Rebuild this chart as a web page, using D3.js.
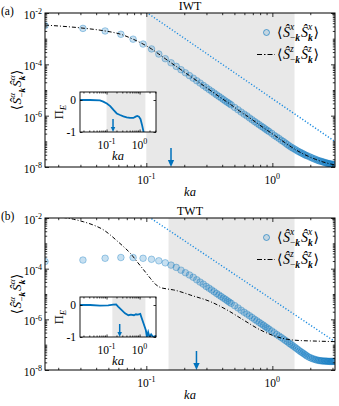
<!DOCTYPE html>
<html>
<head>
<meta charset="utf-8">
<script src="https://cdn.jsdelivr.net/npm/d3@7"></script>
<style>
body { margin: 0; background: #fff; }
svg { display: block; font-family: "Liberation Serif", "DejaVu Serif", serif; }
</style>
</head>
<body>
<svg id="chart" width="339" height="406"></svg>
<script>
// ka = n * dka  (n = mode index)
var dka = Math.PI / 200;

var nCircles = [1,2,3,4,5,6,7,8,9,10,11,12,13,14,15,16,17,18,19,20,21,22,23,24,25,26,27,28,29,30,
	32,34,36,38,40,42,44,46,48,50,52,54,56,58,60,
	63,66,69,72,75,78,81,84,87,90,93,96,99,102,105,108,111,114,117,120,
	124,128,132,136,140,144,148,152,156,160,164,168,172,176,180,184,188,192,196,200];

// log10 <S^x_-k S^x_k>
var sxIWT = [-2.49,-2.60,-2.70,-2.83,-3.02,-3.21,-3.40,-3.60,-3.78,-3.94,
	-4.08,-4.21,-4.33,-4.44,-4.54,-4.64,-4.73,-4.82,-4.90,-4.98,
	-5.05,-5.12,-5.19,-5.25,-5.31,-5.37,-5.43,-5.48,-5.53,-5.58,
	-5.68,-5.77,-5.86,-5.94,-6.01,-6.09,-6.16,-6.23,-6.29,-6.35,-6.41,-6.46,-6.52,-6.57,-6.62,
	-6.69,-6.77,-6.83,-6.89,-6.96,-7.01,-7.07,-7.13,-7.18,-7.23,-7.27,-7.31,-7.35,-7.39,-7.42,-7.45,-7.48,-7.51,-7.54,-7.56,
	-7.59,-7.62,-7.65,-7.68,-7.70,-7.73,-7.75,-7.77,-7.78,-7.80,-7.82,-7.83,-7.85,-7.86,-7.87,-7.88,-7.89,-7.90,-7.91,-7.92];

var sxTWT = [-3.72,-3.66,-3.59,-3.56,-3.56,-3.59,-3.63,-3.69,-3.77,-3.86,
	-3.95,-4.06,-4.16,-4.25,-4.34,-4.44,-4.53,-4.61,-4.70,-4.77,
	-4.84,-4.91,-4.98,-5.04,-5.10,-5.16,-5.21,-5.27,-5.32,-5.37,
	-5.46,-5.55,-5.64,-5.72,-5.79,-5.86,-5.93,-6.00,-6.06,-6.12,-6.18,-6.23,-6.29,-6.34,-6.39,
	-6.46,-6.53,-6.60,-6.66,-6.72,-6.78,-6.84,-6.89,-6.95,-7.00,-7.05,-7.10,-7.15,-7.20,-7.25,-7.29,-7.33,-7.37,-7.41,-7.45,
	-7.49,-7.52,-7.55,-7.57,-7.59,-7.61,-7.62,-7.63,-7.64,-7.64,-7.65,-7.65,-7.65,-7.66,-7.66,-7.66,-7.66,-7.66,-7.66,-7.66];

// log10 <S^z_-k S^z_k>
var nLineIWT = [1,2,3,4,5,6,7,8,9,10,12,14,16,18,20,25,30,35,40,50,60,70,80,90,100,120,140,160,180,200];
var szIWT = [-2.47,-2.59,-2.70,-2.83,-3.02,-3.21,-3.40,-3.60,-3.78,-3.94,-4.21,-4.44,-4.64,-4.82,-4.98,
	-5.31,-5.58,-5.82,-6.01,-6.35,-6.62,-6.85,-7.05,-7.22,-7.36,-7.56,-7.70,-7.80,-7.87,-7.92];

var kaLineTWT = [0.0157,0.0201,0.0265,0.0318,0.0381,0.0458,0.0518,0.0585,0.0659,0.0746,0.0843,0.0953,0.1076,
	0.1178,0.1291,0.1459,0.1648,0.1977,0.2234,0.322,0.437,0.592,0.804,1.089,1.476,2.265,3.1416];
var szTWT = [-1.88,-1.95,-2.05,-2.15,-2.28,-2.47,-2.67,-2.90,-3.13,-3.39,-3.72,-4.05,-4.38,
	-4.61,-4.74,-4.80,-4.84,-4.95,-5.04,-5.30,-5.63,-6.03,-6.42,-6.69,-6.82,-6.86,-6.88];

// dotted power-law guide
var refKa = [0.1, Math.PI];
var refIWT = [-1.97, -7.01];
var refTWT = [-1.89, -6.88];

var shadeIWT = [0.1, 1.5];
var shadeTWT = [0.15, 1.5];
var arrowIWT = 0.157;
var arrowTWT = 0.25;

// inset: Pi_E
var piKaIWT = [0.0158,0.0316,0.0631,0.0794,0.102,0.129,0.162,0.204,0.257,0.324,0.407,0.513,0.646,0.759,0.851,0.955,1.07,1.20,1.32,1.41];
var piIWT = [0,0,-0.01,-0.05,-0.11,-0.19,-0.31,-0.42,-0.47,-0.51,-0.54,-0.56,-0.56,-0.52,-0.50,-0.52,-0.60,-0.80,-1.0,-1.15];
var piKaTWT = [0.0158,0.0316,0.0631,0.112,0.158,0.195,0.224,0.288,0.363,0.457,0.550,0.676,0.776,0.891,1.05,1.15,1.32,1.55,1.66,1.82,2.00,2.24,2.57,2.95,3.14];
var piTWT = [0,0,-0.02,-0.01,0.01,0.02,-0.05,-0.16,-0.26,-0.32,-0.30,-0.32,-0.29,-0.30,-0.28,-0.40,-0.58,-0.79,-1.0,-0.85,-1.0,-0.92,-1.0,-0.97,-1.0];

var xMajor = [0.1, 1];
var yMajor = [1e-8, 1e-6, 1e-4, 1e-2];
var piMajor = [-1, 0];

var blue = "#0072BD";
var svg = d3.select("#chart");

function decadeTicks(lo, hi){
	var out = [];
	for (var d = Math.floor(Math.log10(lo)); d <= Math.ceil(Math.log10(hi)); ++d){
		for (var m = 1; m < 10; ++m){
			var v = m * Math.pow(10, d);
			if (v >= lo*0.999 && v <= hi*1.001){
				out.push(v);
			}
		}
	}
	return out;
}
function notIn(list, major){
	return list.filter(v => !major.some(m => Math.abs(v/m - 1) < 1e-6));
}

function frameTicks(g, x, y, xt, yt, len){
	var r = x.range(), t = y.range();
	g.append("g").attr("transform","translate(0,"+t[0]+")")
		.call(d3.axisBottom(x).tickValues(xt).tickSize(-len).tickFormat(""));
	g.append("g").attr("transform","translate(0,"+t[1]+")")
		.call(d3.axisTop(x).tickValues(xt).tickSize(-len).tickFormat(""));
	g.append("g").attr("transform","translate("+r[0]+",0)")
		.call(d3.axisLeft(y).tickValues(yt).tickSize(-len).tickFormat(""));
	g.append("g").attr("transform","translate("+r[1]+",0)")
		.call(d3.axisRight(y).tickValues(yt).tickSize(-len).tickFormat(""));
	g.selectAll(".domain").remove();
	g.selectAll(".tick line").attr("stroke-width", 0.8);
}

function powLabel(g, x, y, exp, anchor){
	var t = g.append("text").attr("x", x).attr("y", y)
		.attr("text-anchor", anchor).attr("font-size", 11.5);
	t.append("tspan").text("10");
	t.append("tspan").attr("font-size", 8).attr("dy", -4.8).text(exp);
}

// <S^a_-k S^a_k>, super- and subscript stacked
function corrText(t, sup, fs){
	var ss = fs * 0.68, up = fs * 0.45, down = fs * 0.32;
	t.attr("font-size", fs);
	t.append("tspan").text("\u27E8");
	for (var i = 0; i < 2; ++i){
		t.append("tspan").attr("font-style","italic").attr("dx", i == 0 ? 0.5 : 1)
			.attr("dy", i == 0 ? 0 : -down).text("\u015C");
		var sp = t.append("tspan").attr("font-size", ss).attr("font-style","italic").attr("dy", -up).text(sup);
		var w = sp.node().getComputedTextLength();
		if (i == 0){
			t.append("tspan").attr("font-size", ss).attr("dx", -w).attr("dy", up + down).text("\u2212");
		}
		t.append("tspan").attr("font-size", ss).attr("font-weight","bold").attr("font-style","italic")
			.attr("dx", i == 0 ? 0 : -w).attr("dy", i == 0 ? 0 : up + down).text("k");
	}
	t.append("tspan").attr("dx", 0.5).attr("dy", -down).text("\u27E9");
}

function arrowDown(g, x, y0, y1, head){
	g.append("line").attr("x1", x).attr("x2", x).attr("y1", y0).attr("y2", y1 - head)
		.attr("stroke", blue).attr("stroke-width", 1.5);
	g.append("path")
		.attr("d", "M"+(x-head*0.45)+","+(y1-head)+"L"+(x+head*0.45)+","+(y1-head)+"L"+x+","+y1+"Z")
		.attr("fill", blue);
}

function drawPanel(top, bottom, tag, title, sx, lineKa, lineS, ref, shade, arrowKa, piKa, piV, id){
	var left = 45, right = 335;
	var x = d3.scaleLog().domain([dka, Math.PI]).range([left, right]);
	var y = d3.scaleLog().domain([1e-8, 1e-2]).range([bottom, top]);
	var g = svg.append("g");

	g.append("clipPath").attr("id", "clip"+id).append("rect")
		.attr("x", left).attr("y", top).attr("width", right-left).attr("height", bottom-top);

	g.append("rect").attr("x", x(shade[0])).attr("y", top)
		.attr("width", x(shade[1]) - x(shade[0])).attr("height", bottom-top).attr("fill", "#e8e8e8");

	var plot = g.append("g").attr("clip-path", "url(#clip"+id+")");

	var refPts = refKa.map((k, i) => [k, Math.pow(10, ref[i])]);
	plot.append("path").attr("d", d3.line().x(d => x(d[0])).y(d => y(d[1]))(refPts))
		.attr("fill", "none").attr("stroke", "#1c8ce0").attr("stroke-width", 1.4)
		.attr("stroke-dasharray", "1.2,1.9");

	plot.selectAll("circle")
		.data(nCircles.map((n, i) => [n*dka, Math.pow(10, sx[i])]))
		.enter()
		.append("circle")
			.attr("cx", d => x(d[0]))
			.attr("cy", d => y(d[1]))
			.attr("r", 3.3)
			.attr("fill", blue).attr("fill-opacity", 0.22)
			.attr("stroke", blue).attr("stroke-opacity", 0.42).attr("stroke-width", 0.8);

	var linePts = lineKa.map((k, i) => [k, Math.pow(10, lineS[i])]);
	plot.append("path").attr("d", d3.line().curve(d3.curveMonotoneX).x(d => x(d[0])).y(d => y(d[1]))(linePts))
		.attr("fill", "none").attr("stroke", "black").attr("stroke-width", 1)
		.attr("stroke-dasharray", "4,2,1,2");

	arrowDown(g, x(arrowKa), bottom - 19, bottom, 7);

	frameTicks(g, x, y, notIn(decadeTicks(dka, Math.PI), xMajor), notIn(decadeTicks(1e-8, 1e-2), yMajor), 2.2);
	frameTicks(g, x, y, xMajor, yMajor, 4);
	g.append("rect").attr("x", left).attr("y", top).attr("width", right-left).attr("height", bottom-top)
		.attr("fill", "none").attr("stroke", "black").attr("stroke-width", 1);

	xMajor.forEach(v => powLabel(g, x(v), bottom + 16.5, String(Math.round(Math.log10(v))), "middle"));
	yMajor.forEach(v => powLabel(g, left - 3, y(v) + 6, String(Math.round(Math.log10(v))), "end"));

	g.append("text").attr("x", 190).attr("y", bottom + 29).attr("text-anchor", "middle")
		.attr("font-size", 12.5).attr("font-style", "italic").text("ka");
	g.append("text").attr("x", 190).attr("y", top - 3).attr("text-anchor", "middle")
		.attr("font-size", 12).text(title);
	g.append("text").attr("x", 1).attr("y", top + 1.5).attr("font-size", 11.5).text(tag);

	var yl = g.append("text").attr("transform", "translate(21,"+((top+bottom)/2)+") rotate(-90)")
		.attr("text-anchor", "middle");
	corrText(yl, "\u03B1", 13.5);

	// legend
	var lg = g.append("g");
	lg.append("circle").attr("cx", 266.5).attr("cy", top + 19.5).attr("r", 3)
		.attr("fill", blue).attr("fill-opacity", 0.15)
		.attr("stroke", blue).attr("stroke-opacity", 0.75).attr("stroke-width", 0.8);
	corrText(lg.append("text").attr("x", 277).attr("y", top + 23.5), "x", 14);
	lg.append("line").attr("x1", 257).attr("x2", 275).attr("y1", top + 41.5).attr("y2", top + 41.5)
		.attr("stroke", "black").attr("stroke-width", 1).attr("stroke-dasharray", "5,2,1.5,2");
	corrText(lg.append("text").attr("x", 277).attr("y", top + 45.5), "z", 14);

	// inset
	var iTop = top + 79, iBot = top + 119, iL = 80, iR = 156;
	var xi = d3.scaleLog().domain([dka, Math.PI]).range([iL, iR]);
	var yi = d3.scaleLinear().domain([-1, 0.25]).range([iBot, iTop]);
	var ig = g.append("g");
	ig.append("rect").attr("x", iL).attr("y", iTop).attr("width", iR-iL).attr("height", iBot-iTop).attr("fill", "white");
	ig.append("rect").attr("x", xi(shade[0])).attr("y", iTop)
		.attr("width", xi(shade[1]) - xi(shade[0])).attr("height", iBot-iTop).attr("fill", "#e8e8e8");
	ig.append("clipPath").attr("id", "iclip"+id).append("rect")
		.attr("x", iL).attr("y", iTop).attr("width", iR-iL).attr("height", iBot-iTop);
	ig.append("path").attr("clip-path", "url(#iclip"+id+")")
		.attr("d", d3.line().x((d, i) => xi(d)).y((d, i) => yi(piV[i]))(piKa))
		.attr("fill", "none").attr("stroke", blue).attr("stroke-width", 1.8);
	arrowDown(ig, xi(arrowKa), iBot - 13, iBot, 5);
	frameTicks(ig, xi, yi, notIn(decadeTicks(dka, Math.PI), xMajor), [], 1.5);
	frameTicks(ig, xi, yi, xMajor, piMajor, 2.5);
	ig.append("rect").attr("x", iL).attr("y", iTop).attr("width", iR-iL).attr("height", iBot-iTop)
		.attr("fill", "none").attr("stroke", "black").attr("stroke-width", 0.9);
	xMajor.forEach(v => powLabel(ig, xi(v), iBot + 16.5, String(Math.round(Math.log10(v))), "middle"));
	piMajor.forEach(v => ig.append("text").attr("x", iL - 4).attr("y", yi(v) + 4)
		.attr("text-anchor", "end").attr("font-size", 11.5).text(v));
	ig.append("text").attr("x", (iL+iR)/2).attr("y", iBot + 28).attr("text-anchor", "middle")
		.attr("font-size", 12.5).attr("font-style", "italic").text("ka");
	var pl = ig.append("text").attr("transform", "translate(63,"+((iTop+iBot)/2)+") rotate(-90)")
		.attr("text-anchor", "middle").attr("font-size", 12.5);
	pl.append("tspan").text("\u03A0");
	pl.append("tspan").attr("font-size", 9).attr("font-style", "italic").attr("dy", 3).text("E");
}

drawPanel(13, 167, "(a)", "IWT", sxIWT, nLineIWT.map(n => n*dka), szIWT, refIWT, shadeIWT, arrowIWT, piKaIWT, piIWT, "a");
drawPanel(218, 370, "(b)", "TWT", sxTWT, kaLineTWT, szTWT, refTWT, shadeTWT, arrowTWT, piKaTWT, piTWT, "b");
</script>
</body>
</html>
